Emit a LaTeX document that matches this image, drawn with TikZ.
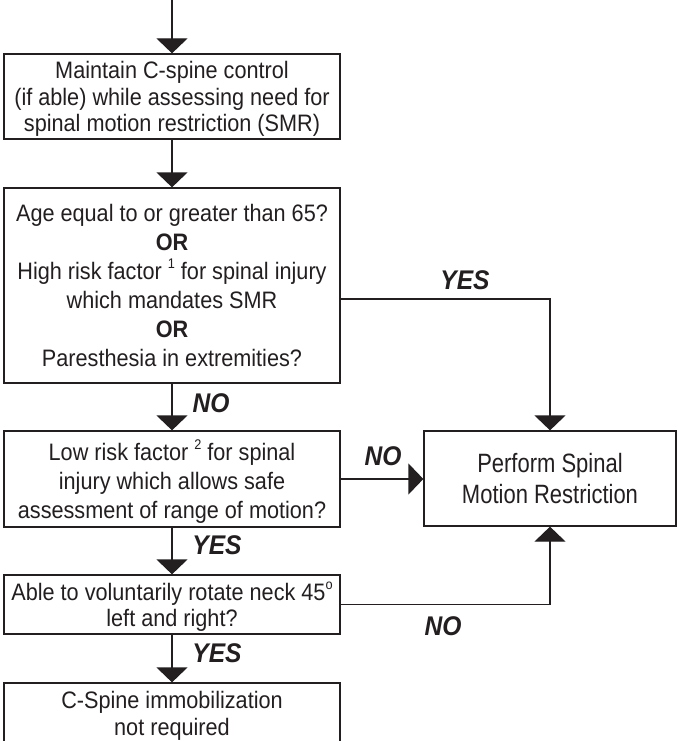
\documentclass[tikz,border=0pt]{standalone}
\usepackage{fontspec}
\setmainfont{Liberation Sans}[FakeStretch=0.91]
\newfontfamily\bigfont{Liberation Sans}[FakeStretch=0.83]
\usetikzlibrary{arrows.meta}
\definecolor{ink}{HTML}{231F20}
\newcommand{\sups}[1]{\raisebox{0.45em}{\fontsize{14}{14}\selectfont #1}}
\newcommand{\lblfont}{\fontsize{27}{27}\selectfont\bfseries\itshape}
\begin{document}
\begin{tikzpicture}[x=1pt,y=-1pt,
  box/.style={draw=ink, line width=1.3pt, rectangle, inner sep=0pt, align=center,
    text=ink, font=\fontsize{23.8}{26.7}\selectfont, text depth=0pt, minimum width=336pt},
  arr/.style={draw=ink, line width=1.3pt, -{Triangle[width=31pt,length=15pt]}},
  lbl/.style={text=ink, font=\lblfont, inner sep=0pt}]
\useasboundingbox (0,0) rectangle (677,741);
\fill[white] (0,0) rectangle (677,741);

\node[box, minimum height=85pt] (b1) at (172,96.5)
  {Maintain C-spine control\\(if able) while assessing need for\\spinal motion restriction (SMR)};
\node[box, font=\fontsize{23.8}{29}\selectfont, minimum height=195pt] (b2) at (172,285.5)
  {Age equal to or greater than 65?\\\textbf{OR}\\High risk factor \sups{1} for spinal injury\\which mandates SMR\\\textbf{OR}\\Paresthesia in extremities?};
\node[box, font=\fontsize{23.8}{29}\selectfont, minimum height=96pt] (b3) at (172,479)
  {Low risk factor \sups{2} for spinal\\injury which allows safe\\assessment of range of motion?};
\node[box, minimum height=59pt] (b4) at (172,604.5)
  {Able to voluntarily rotate neck 45\sups{o}\\left and right?};
\node[box, minimum height=60.6pt] (b5) at (172,713.3)
  {C-Spine immobilization\\not required};
\node[box, font=\bigfont\fontsize{26.5}{31.7}\selectfont, minimum width=252pt, minimum height=95pt] (b6) at (550,478.5)
  {Perform Spinal\\Motion Restriction};

\coordinate (top) at (172,0);
\draw[arr] (top) -- (b1.north);
\draw[arr] (b1.south) -- (b2.north);
\draw[arr] (b2.south) -- (b3.north);
\draw[arr] (b3.south) -- (b4.north);
\draw[arr] (b4.south) -- (b5.north);
\draw[arr] ([yshift=-13.5pt]b2.east) -| (b6.north);
\draw[arr] (b3.east) -- (b3.east -| b6.west);
\draw[arr] (b4.east) -| (b6.south);

\node[lbl] (l1) at (211,403) {NO};
\node[lbl] (l2) at (217,545) {YES};
\node[lbl] (l3) at (217,653) {YES};
\node[lbl] (l4) at (465,280) {YES};
\node[lbl] (l5) at (383,456) {NO};
\node[lbl] (l6) at (443,626) {NO};
\end{tikzpicture}
\end{document}
